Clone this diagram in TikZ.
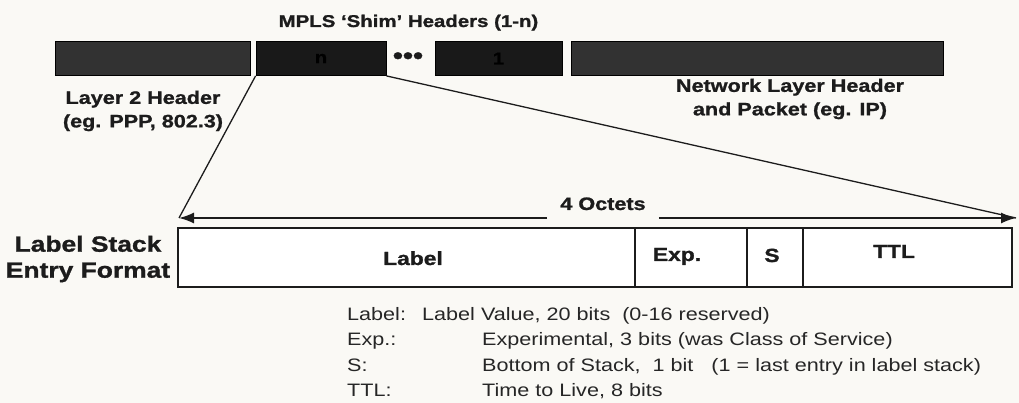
\documentclass[tikz,border=0pt]{standalone}
\usepackage{fontspec}
\newfontfamily\arialw{Liberation Sans}[FakeStretch=1.2, BoldFeatures={FakeBold=1.2}]
\usepackage{tikz}
\usetikzlibrary{arrows.meta, positioning}
\usepackage{xcolor}
\definecolor{paper}{RGB}{250, 249, 245}
\definecolor{bargray}{RGB}{50, 50, 50}
\definecolor{bardark}{RGB}{25, 25, 25}
\definecolor{inkblack}{RGB}{28, 28, 28}
\definecolor{inkgray}{RGB}{38, 38, 38}
\tikzset{
  hdr/.style     = {rectangle, draw=black, line width=0.8pt, fill=bargray, minimum height=34pt, inner sep=0pt},
  hdrdark/.style = {hdr, fill=bardark, text=black, font=\arialw\bfseries\fontsize{17}{20}\selectfont},
  fld/.style     = {rectangle, draw=inkblack, line width=1.8pt, fill=white, minimum height=59pt, inner sep=0pt, outer sep=0pt},
  fldtxt/.style  = {anchor=base, inner sep=0pt, text=inkblack, font=\arialw\bfseries\fontsize{19}{22}\selectfont},
  lbl/.style     = {align=center, inner sep=0pt, text=inkblack, font=\arialw\bfseries\fontsize{18}{23.5}\selectfont},
  leg/.style     = {anchor=base west, inner sep=0pt, text=inkgray, font=\arialw\fontsize{18}{22}\selectfont},
  zoomln/.style  = {inkblack, line width=1.3pt},
  octarr/.style  = {-{Latex[length=15pt, width=11pt]}, inkblack, line width=1.5pt},
}

\begin{document}
\begin{tikzpicture}[x=1pt, y=-1pt]

\fill[paper] (0,0) rectangle (1019,403);
\useasboundingbox (0,0) rectangle (1019,403);

% ===== packet with shim headers =====
\node[lbl, anchor=base, font=\arialw\bfseries\fontsize{17}{20}\selectfont] (shimttl) at (408.5,27) {MPLS ‘Shim’ Headers (1-n)};
\node[hdr, minimum width=195pt] (l2hdr) at (152.5,58.5) {};
\node[hdrdark, minimum width=130pt] (shimn) at (321,58.5) {n};
\node[inner sep=0pt, text=inkblack, font=\arialw\bfseries\fontsize{24}{24}\selectfont] (dots) at (408,58) {•••};
\node[hdrdark, minimum width=127pt] (shim1) at (498.5,58.5) {1};
\node[hdr, minimum width=372pt] (l3hdr) at (757,58) {};
\node[lbl] (l2txt) at (143,111) {Layer 2 Header\\(eg. PPP, 802.3)};
\node[lbl] (l3txt) at (790,99) {Network Layer Header\\and Packet (eg. IP)};

% ===== label stack entry =====
\node[lbl, font=\arialw\bfseries\fontsize{22}{26}\selectfont] (lsetxt) at (88,259) {Label Stack\\Entry Format};
\node[fld, minimum width=457pt] (flabel) at (406.5,257.5) {};
\node[fld, minimum width=112pt, right=0pt of flabel] (fexp) {};
\node[fld, minimum width=56pt, right=0pt of fexp] (fs) {};
\node[fld, minimum width=209pt, right=0pt of fs] (fttl) {};
\node[fldtxt] (tlabel) at (413,265) {Label};
\node[fldtxt] (texp) at (677,261) {Exp.};
\node[fldtxt] (ts) at (772,262) {S};
\node[fldtxt] (tttl) at (894,258) {TTL};

% 4 octets
\coordinate (octl) at (179,218);
\coordinate (octr) at (1016,218);
\node[lbl, anchor=base, inner xsep=13pt] (octs) at (603,210) {4 Octets};
\draw[octarr] (octs.west |- octl) -- (octl);
\draw[octarr] (octs.east |- octr) -- (octr);

% zoom lines
\draw[zoomln] (shimn.south west) -- (octl);
\draw[zoomln] (shimn.south east) -- (octr);

% ===== legend =====
\node[leg] (klabel) at (347,320) {Label:};
\node[leg] (dlabel) at (422,320) {Label Value, 20 bits\ \ (0-16 reserved)};
\node[leg] (kexp) at (347,345.5) {Exp.:};
\node[leg] (dexp) at (482,345.5) {Experimental, 3 bits (was Class of Service)};
\node[leg] (ks) at (347,371) {S:};
\node[leg] (ds) at (482,371) {Bottom of Stack,\ \ 1 bit\ \ \ (1 = last entry in label stack)};
\node[leg] (kttl) at (347,396.5) {TTL:};
\node[leg] (dttl) at (482,396.5) {Time to Live, 8 bits};

\end{tikzpicture}
\end{document}
